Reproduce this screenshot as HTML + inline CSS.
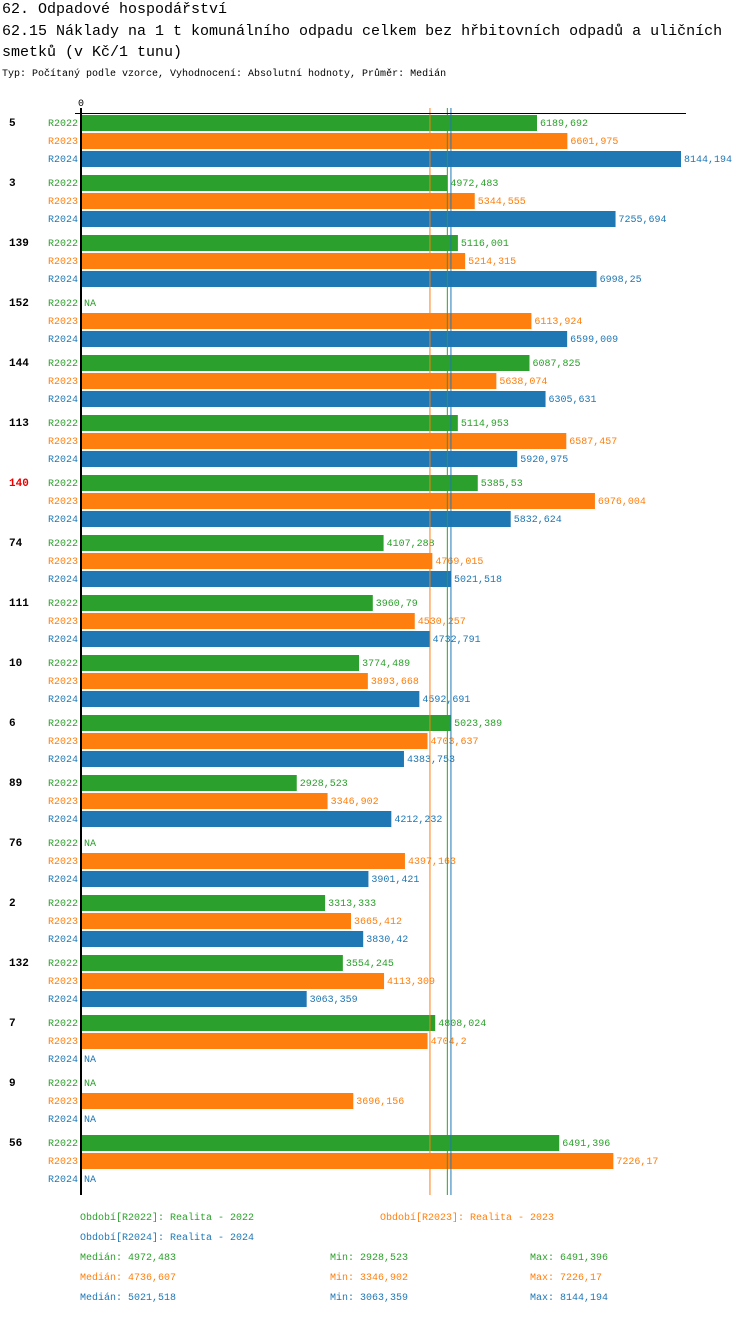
<!DOCTYPE html>
<html><head><meta charset="utf-8"><style>
body{margin:0;background:#fff;font-family:"Liberation Mono",monospace;}
svg text{font-family:"Liberation Mono","DejaVu Sans Mono",monospace;}
</style></head><body>
<svg id="c" width="750" height="1314" xmlns="http://www.w3.org/2000/svg">
<text x="2" y="13" font-size="15">62. Odpadové hospodářství</text>
<text x="2" y="35" font-size="15">62.15 Náklady na 1 t komunálního odpadu celkem bez hřbitovních odpadů a uličních</text>
<text x="2" y="56" font-size="15">smetků (v Kč/1 tunu)</text>
<text x="2" y="76" font-size="10">Typ: Počítaný podle vzorce, Vyhodnocení: Absolutní hodnoty, Průměr: Medián</text>
<g id="g"></g>
</svg>
<script>
const categories=["5","3","139","152","144","113","140","74","111","10","6","89","76","2","132","7","9","56"];
const s2022=[6189.692,4972.483,5116.001,null,6087.825,5114.953,5385.53,4107.288,3960.79,3774.489,5023.389,2928.523,null,3313.333,3554.245,4808.024,null,6491.396];
const s2023=[6601.975,5344.555,5214.315,6113.924,5638.074,6587.457,6976.004,4769.015,4530.257,3893.668,4703.637,3346.902,4397.163,3665.412,4113.309,4704.2,3696.156,7226.17];
const s2024=[8144.194,7255.694,6998.25,6599.009,6305.631,5920.975,5832.624,5021.518,4732.791,4592.691,4383.753,4212.232,3901.421,3830.42,3063.359,null,null,null];
const seriesNames=["R2022","R2023","R2024"];
const medians=[4972.483,4736.607,5021.518];
const mins=[2928.523,3346.902,3063.359];
const maxs=[6491.396,7226.17,8144.194];
const highlighted=["140"];
const colors=["#2ca02c","#ff7f0e","#1f77b4"];
const X0=81,W=600,MAXV=8144.194;
const x=v=>X0+v/MAXV*W;
const yRow=(i,s)=>115+i*60+s*18;
const fmt=v=>String(v).replace('.',',');
const g=document.getElementById('g');
const NS="http://www.w3.org/2000/svg";
function mk(t,a,txt){const e=document.createElementNS(NS,t);for(const k in a)e.setAttribute(k,a[k]);if(txt!=null)e.textContent=txt;g.appendChild(e);return e;}
const all=[s2022,s2023,s2024];
categories.forEach((c,i)=>{
 let e=mk('text',{x:9,y:yRow(i,0)+11,'font-size':11,'font-weight':'bold',fill:highlighted.includes(c)?'#e00':'#000'},c);
 
 
 all.forEach((arr,s)=>{
  const y=yRow(i,s);
  e=mk('text',{x:78,y:y+11,'font-size':10,'text-anchor':'end',fill:colors[s]},seriesNames[s]);
  
  
  const v=arr[i];
  if(v==null){
   e=mk('text',{x:84,y:y+11,'font-size':10,fill:colors[s]},'NA');
   
   
  }else{
   e=mk('rect',{x:X0,y:y,width:x(v)-X0,height:16,fill:colors[s]});
   
   
   e=mk('text',{x:x(v)+3,y:y+11,'font-size':10,fill:colors[s]},fmt(v));
   
   
  }
 });
});
[1,0,2].forEach(s=>{
 const e=mk('line',{x1:x(medians[s]),x2:x(medians[s]),y1:108,y2:1195,stroke:colors[s],'stroke-width':1});
 
 
});
let e=mk('line',{x1:75,x2:686,y1:113.5,y2:113.5,stroke:'#000','stroke-width':1});


e=mk('line',{x1:81,x2:81,y1:108,y2:1195,stroke:'#000','stroke-width':2});


e=mk('text',{x:81,y:106,'font-size':10,'text-anchor':'middle'},'0');


e=mk('text',{x:80,y:1220,'font-size':10,fill:colors[0]},'Období[R2022]: Realita - 2022');


e=mk('text',{x:380,y:1220,'font-size':10,fill:colors[1]},'Období[R2023]: Realita - 2023');


e=mk('text',{x:80,y:1240,'font-size':10,fill:colors[2]},'Období[R2024]: Realita - 2024');


[0,1,2].forEach(s=>{
 const y=1260+s*20;
 e=mk('text',{x:80,y:y,'font-size':10,fill:colors[s]},'Medián: '+fmt(medians[s]));
 
 
 e=mk('text',{x:330,y:y,'font-size':10,fill:colors[s]},'Min: '+fmt(mins[s]));
 
 
 e=mk('text',{x:530,y:y,'font-size':10,fill:colors[s]},'Max: '+fmt(maxs[s]));
 
 
});
</script>
</body></html>
